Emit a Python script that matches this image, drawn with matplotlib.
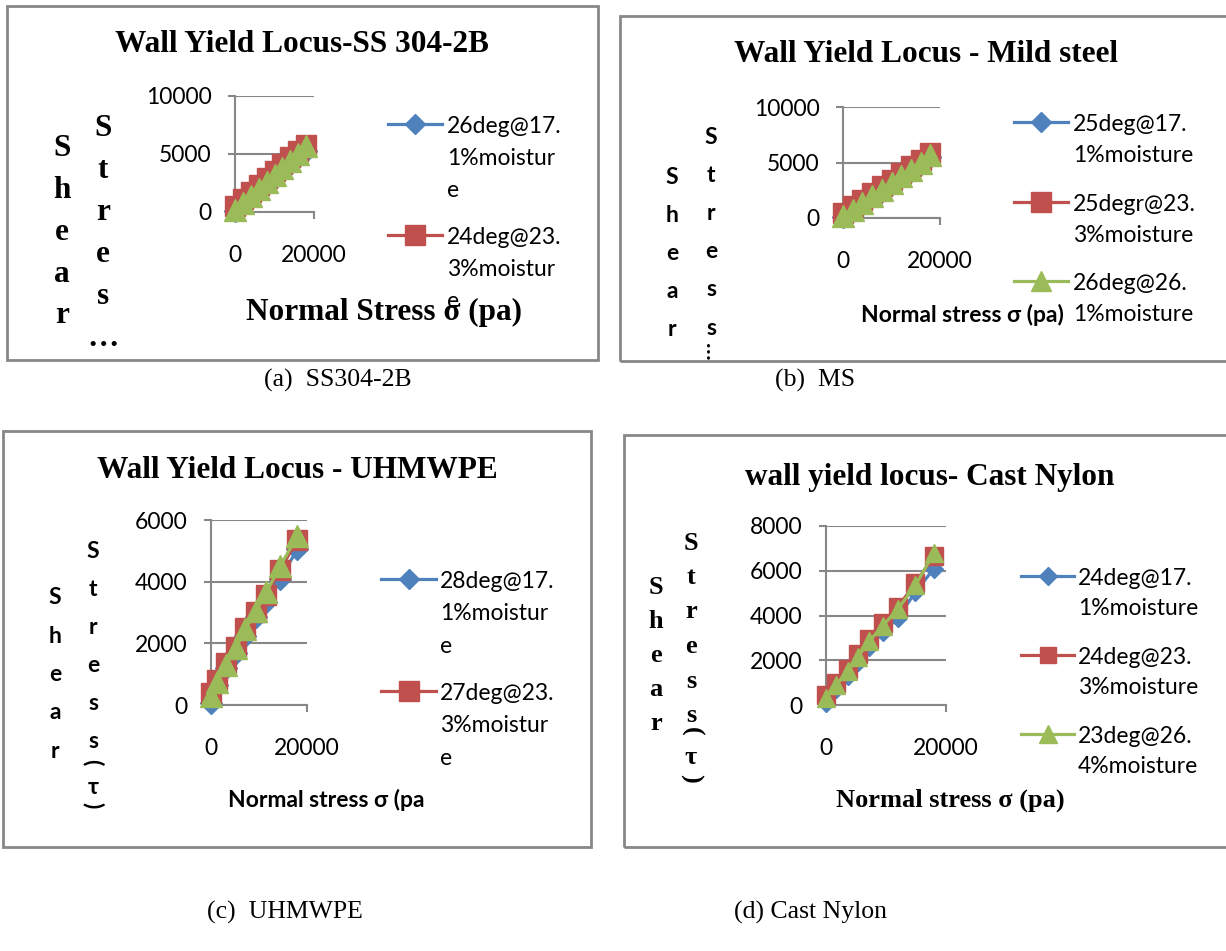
import matplotlib.pyplot as plt
from matplotlib.patches import Rectangle

W, H = 1226, 951

# normal stress (pa) and shear stress (pa)
x_ss = [0, 2000, 4000, 6000, 8000, 10000, 12000, 14000, 16000, 18000]
ss_17 = [100, 650, 1250, 1800, 2400, 2950, 3550, 4100, 4700, 5300]
ss_23 = [500, 1150, 1700, 2350, 2900, 3500, 4100, 4700, 5250, 5800]
ss_26 = [200, 800, 1400, 2000, 2600, 3200, 3750, 4400, 5000, 5700]

x_ms = [0, 2000, 4000, 6000, 8000, 10000, 12000, 14000, 16000, 18000]
ms_17 = [100, 700, 1300, 1850, 2450, 3050, 3650, 4250, 4850, 5500]
ms_23 = [450, 1050, 1650, 2250, 2850, 3450, 4050, 4650, 5250, 5850]
ms_26 = [150, 750, 1350, 1950, 2550, 3150, 3750, 4350, 4950, 5700]

x_uh = [0, 1200, 3100, 5200, 7100, 9400, 11500, 14400, 18000]
uh_17 = [50, 650, 1200, 1700, 2250, 2850, 3350, 4100, 5050]
uh_23 = [390, 810, 1350, 1890, 2490, 3030, 3570, 4380, 5360]
uh_26 = [300, 750, 1300, 1850, 2450, 3050, 3650, 4500, 5480]

x_cn = [0, 1700, 3600, 5300, 7200, 9500, 12000, 14900, 18000]
cn_17 = [100, 700, 1300, 1900, 2600, 3250, 3900, 5050, 6100]
cn_23 = [450, 1000, 1620, 2260, 2970, 3650, 4390, 5450, 6660]
cn_26 = [300, 900, 1500, 2150, 2850, 3550, 4300, 5350, 6800]

labels_ss = ["26deg@17.\n1%moistur\ne", "24deg@23.\n3%moistur\ne"]
labels_ms = ["25deg@17.\n1%moisture", "25degr@23.\n3%moisture", "26deg@26.\n1%moisture"]
labels_uh = ["28deg@17.\n1%moistur\ne", "27deg@23.\n3%moistur\ne"]
labels_cn = ["24deg@17.\n1%moisture", "24deg@23.\n3%moisture", "23deg@26.\n4%moisture"]

yticks_ss = [0, 5000, 10000]
yticks_ms = [0, 5000, 10000]
yticks_uh = [0, 2000, 4000, 6000]
yticks_cn = [0, 2000, 4000, 6000, 8000]
xticks = [0, 20000]

BLUE, RED, GREEN = '#4F81BD', '#C0504D', '#9BBB59'
GRAY = '#878787'
TIMES = ['Liberation Serif', 'DejaVu Serif']
CALI = ['Lato', 'DejaVu Sans']


def fx(x):
    return x / W


def fy(y):
    return 1 - y / H


fig = plt.figure(figsize=(W / 100, H / 100), dpi=100)

panels = [
    dict(frame=(7, 6, 598, 360), ax=(235, 96, 314, 212), x=x_ss,
         ys=(ss_17, ss_23, ss_26), labels=labels_ss, yticks=yticks_ss, ms=15,
         title="Wall Yield Locus-SS 304-2B", tpos=(302, 45), tfont=TIMES, tsize=22.5,
         xlabel="Normal Stress σ (pa)", xlpos=(384, 312), lfont=TIMES, lsize=22.5,
         shear=(62, 148, 42), stress=(103, 128, 42), tail=[("…", 338, 0)],
         leg=(388, 116, 54, 5), nleg=2, lsp=33, gap=1.15,
         caption="(a)  SS304-2B", cpos=(338, 380)),
    dict(frame=(620, 16, 1232, 361), ax=(843, 107, 940, 218), x=x_ms,
         ys=(ms_17, ms_23, ms_26), labels=labels_ms, yticks=yticks_ms, ms=14.5,
         title="Wall Yield Locus - Mild steel", tpos=(926, 55), tfont=TIMES, tsize=22.5,
         xlabel="Normal stress σ (pa)", xlpos=(962, 315), lfont=CALI, lsize=16.5,
         shear=(672, 177, 38), stress=(711, 137, 38.2), tail=[("…", 352, -90)],
         leg=(1014, 114, 54, 5), nleg=3, lsp=32, gap=1.2,
         caption="(b)  MS", cpos=(815, 380)),
    dict(frame=(3, 431, 591, 847), ax=(211, 520, 307, 705), x=x_uh,
         ys=(uh_17, uh_23, uh_26), labels=labels_uh, yticks=yticks_uh, ms=15,
         title="Wall Yield Locus - UHMWPE", tpos=(297, 470), tfont=TIMES, tsize=22.5,
         xlabel="Normal stress σ (pa", xlpos=(326, 800), lfont=CALI, lsize=16.5,
         shear=(55, 598, 38.3), stress=(93, 552, 38),
         tail=[("(", 762, -90), ("τ", 787, 0), (")", 805, -90)],
         leg=(381, 571, 55, 4), nleg=2, lsp=33.5, gap=1.15,
         caption="(c)  UHMWPE", cpos=(285, 912)),
    dict(frame=(624, 435, 1232, 847), ax=(826, 526, 946, 705), x=x_cn,
         ys=(cn_17, cn_23, cn_26), labels=labels_cn, yticks=yticks_cn, ms=12.5,
         title="wall yield locus- Cast Nylon", tpos=(930, 477), tfont=TIMES, tsize=22.5,
         xlabel="Normal stress σ (pa)", xlpos=(950, 800), lfont=TIMES, lsize=19,
         shear=(656, 587, 34), stress=(691, 543, 34.5),
         tail=[("(", 731, -90), ("τ", 757, 0), (")", 778, -90)],
         leg=(1021, 568, 53, 4), nleg=3, lsp=31, gap=1.2,
         caption="(d) Cast Nylon", cpos=(810, 912)),
]

for p in panels:
    x0, y0, x1, y1 = p['frame']
    fig.add_artist(Rectangle((fx(x0), fy(y1)), (x1 - x0) / W, (y1 - y0) / H,
                             transform=fig.transFigure, fill=False, ec=GRAY, lw=2))

    l, t, r, b = p['ax']
    ax = fig.add_axes([fx(l), fy(b), (r - l) / W, (b - t) / H])
    ms = p['ms']
    h1, = ax.plot(p['x'], p['ys'][0], color=BLUE, lw=2.3, marker='D', ms=ms * 0.75,
                  clip_on=False, zorder=3)
    h2, = ax.plot(p['x'], p['ys'][1], color=RED, lw=2.3, marker='s', ms=ms,
                  clip_on=False, zorder=4)
    h3, = ax.plot(p['x'], p['ys'][2], color=GREEN, lw=2.3, marker='^', ms=ms * 1.05,
                  clip_on=False, zorder=5)
    ax.set_xlim(0, 20000)
    ax.set_ylim(p['yticks'][0], p['yticks'][-1])
    ax.set_xticks(xticks)
    ax.set_yticks(p['yticks'])
    ax.set_xticklabels([str(v) for v in xticks], family=CALI, fontsize=16.5)
    ax.set_yticklabels([str(v) for v in p['yticks']], family=CALI, fontsize=16.5)
    ax.tick_params(axis='y', direction='out', length=5, width=1.5, color=GRAY, pad=12)
    ax.tick_params(axis='x', direction='out', length=5, width=1.5, color=GRAY, pad=19)
    for s in ['top', 'right']:
        ax.spines[s].set_visible(False)
    for s in ['left', 'bottom']:
        ax.spines[s].set_color(GRAY)
        ax.spines[s].set_linewidth(1.5)
    ax.yaxis.grid(True, color=GRAY, lw=1.5)
    ax.set_axisbelow(True)
    ax.patch.set_alpha(0)

    # legend: marker sits on the first line of each wrapped label
    fs_px = 16.5 * 100 / 72
    lx, ly, hl, hp = p['leg']
    handles = [h1, h2, h3][:p['nleg']]
    leg = fig.legend(handles, p['labels'], loc='upper left',
                     bbox_to_anchor=(fx(lx), fy(ly)), bbox_transform=fig.transFigure,
                     frameon=False, borderpad=0, borderaxespad=0,
                     handlelength=hl / fs_px, handletextpad=hp / fs_px,
                     labelspacing=p['gap'], numpoints=1, markerscale=0.95,
                     prop=dict(family=CALI, size=16.5))
    for txt in leg.get_texts():
        txt.set_linespacing(p['lsp'] / (fs_px * 0.876))
    for col in leg._legend_handle_box.get_children():
        for item in col.get_children():
            item.align = 'top'

    weight = 'bold'
    fig.text(fx(p['tpos'][0]), fy(p['tpos'][1]), p['title'], family=p['tfont'],
             size=p['tsize'], weight=weight, ha='center', va='center')
    fig.text(fx(p['xlpos'][0]), fy(p['xlpos'][1]), p['xlabel'], family=p['lfont'],
             size=p['lsize'], weight=weight, ha='center', va='center')

    # vertically stacked axis title letters
    sx, sy, sd = p['shear']
    for i, ch in enumerate("Shear"):
        fig.text(fx(sx), fy(sy + i * sd), ch, family=p['lfont'], size=p['lsize'],
                 weight=weight, ha='center', va='center')
    tx, ty, td = p['stress']
    word = "Stres" if p['tail'][0][0] == "…" and p['tail'][0][2] == 0 else "Stress"
    for i, ch in enumerate(word):
        fig.text(fx(tx), fy(ty + i * td), ch, family=p['lfont'], size=p['lsize'],
                 weight=weight, ha='center', va='center')
    for ch, yy, rot in p['tail']:
        fig.text(fx(tx), fy(yy), ch, family=p['lfont'], size=p['lsize'],
                 weight=weight, ha='center', va='center', rotation=rot)

    fig.text(fx(p['cpos'][0]), fy(p['cpos'][1]), p['caption'], family=TIMES,
             size=18.5, ha='center', va='center')

fig.savefig('out.png', dpi=100)
